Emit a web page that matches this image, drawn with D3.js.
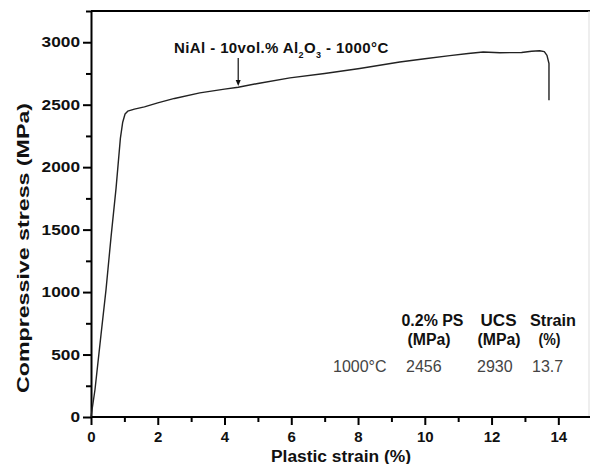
<!DOCTYPE html>
<html lang="en">
<meta charset="UTF-8">
<title>Compressive stress vs plastic strain</title>
<script src="https://d3js.org/d3.v7.min.js"></script>
<style>
  body { margin: 0; background: #fff; }
  svg text { font-family: "Liberation Sans", Arial, sans-serif; }
</style>
<body>
<div id="chart"></div>
<script>
// stress-strain curve
var strain = [0, 0.12, 0.3, 0.45, 0.6, 0.75, 0.88, 0.95, 1.02, 1.1, 1.3, 1.6, 2.0, 2.5, 3.26, 4.0, 4.41, 5.0, 5.96, 7.0, 8.05, 9.25, 10.0, 10.75, 11.3, 11.75, 12.25, 12.9, 13.2, 13.44, 13.58, 13.66, 13.72, 13.72];
var stress = [0, 220, 660, 1020, 1440, 1830, 2230, 2360, 2425, 2448, 2465, 2483, 2515, 2550, 2595, 2625, 2640, 2670, 2715, 2750, 2790, 2842, 2868, 2893, 2910, 2922, 2916, 2918, 2928, 2932, 2925, 2895, 2830, 2536];

var xTicks = [0, 2, 4, 6, 8, 10, 12, 14];
var xMinor = [1, 3, 5, 7, 9, 11, 13];
var yTicks = [0, 500, 1000, 1500, 2000, 2500, 3000];
var yMinor = [250, 750, 1250, 1750, 2250, 2750, 3250];

// inset table
var tableHeads = [["0.2% PS", "(MPa)"], ["UCS", "(MPa)"], ["Strain", "(%)"]];
var tableRowLabel = "1000°C";
var tableRow = ["2456", "2930", "13.7"];

var width = 590, height = 464;
var margin = {top: 11, left: 91, bottom: 47};

var svg = d3.select("#chart").append("svg")
    .attr("width", width)
    .attr("height", height);

var x = d3.scaleLinear().domain([0, 15]).range([margin.left, margin.left + 15 * 33.38]);
var y = d3.scaleLinear().domain([0, 3250]).range([height - margin.bottom, margin.top]);

// frame (top + right)
svg.append("line")
    .attr("x1", x(0)).attr("x2", width)
    .attr("y1", y(3250)).attr("y2", y(3250))
    .attr("stroke", "#000").attr("stroke-width", 2);
svg.append("line")
    .attr("x1", 589).attr("x2", 589)
    .attr("y1", y(3250)).attr("y2", y(0))
    .attr("stroke", "#ddd").attr("stroke-width", 1);

// minor ticks
svg.append("g")
    .attr("transform", "translate(0," + y(0) + ")")
    .call(d3.axisBottom(x).tickValues(xMinor).tickSize(5).tickFormat(""))
    .call(function(g) { g.select(".domain").remove(); })
    .selectAll("line").attr("stroke-width", 2);
svg.append("g")
    .attr("transform", "translate(" + x(0) + ",0)")
    .call(d3.axisLeft(y).tickValues(yMinor).tickSize(5).tickFormat(""))
    .call(function(g) { g.select(".domain").remove(); })
    .selectAll("line").attr("stroke-width", 2);

// x axis
var xAxis = svg.append("g")
    .attr("transform", "translate(0," + y(0) + ")")
    .call(d3.axisBottom(x).tickValues(xTicks).tickSize(8).tickSizeOuter(0).tickPadding(6));
xAxis.select(".domain").attr("stroke-width", 2).attr("d", "M" + x(0) + ",0H" + width);
xAxis.selectAll("line").attr("stroke-width", 2);
xAxis.selectAll("text")
    .attr("font-size", 15).attr("font-weight", "bold").attr("fill", "#111");

// y axis
var yAxis = svg.append("g")
    .attr("transform", "translate(" + x(0) + ",0)")
    .call(d3.axisLeft(y).tickValues(yTicks).tickFormat(d3.format("d"))
      .tickSize(8).tickSizeOuter(0).tickPadding(3));
yAxis.select(".domain").attr("stroke-width", 2);
yAxis.selectAll("line").attr("stroke-width", 2);
yAxis.selectAll("text")
    .attr("font-size", 14).attr("font-weight", "bold").attr("fill", "#111")
    .attr("textLength", function(d) { return String(d).length * 9.6; })
    .attr("lengthAdjust", "spacingAndGlyphs");

// axis titles
svg.append("text")
    .attr("x", 341).attr("y", 461.5)
    .attr("text-anchor", "middle")
    .attr("font-size", 16).attr("font-weight", "bold").attr("fill", "#111")
    .attr("textLength", 140).attr("lengthAdjust", "spacingAndGlyphs")
    .text("Plastic strain (%)");

svg.append("text")
    .attr("transform", "translate(28.5,248) rotate(-90)")
    .attr("text-anchor", "middle")
    .attr("font-size", 17).attr("font-weight", "bold").attr("fill", "#111")
    .attr("textLength", 290).attr("lengthAdjust", "spacingAndGlyphs")
    .text("Compressive stress (MPa)");

// the curve
var pts = strain.map(function(s, i) { return [s, stress[i]]; });
svg.append("path")
    .datum(pts)
    .attr("fill", "none")
    .attr("stroke", "#222")
    .attr("stroke-width", 1.4)
    .attr("stroke-linejoin", "round")
    .attr("d", d3.line().x(function(d) { return x(d[0]); }).y(function(d) { return y(d[1]); }));

// annotation
var note = svg.append("text")
    .attr("x", 174).attr("y", 53)
    .attr("font-size", 15).attr("font-weight", "bold").attr("fill", "#111")
    .attr("letter-spacing", 0.4);
note.append("tspan").text("NiAl - 10vol.% Al");
note.append("tspan").attr("font-size", 9).attr("dy", 5).text("2");
note.append("tspan").attr("dy", -5).text("O");
note.append("tspan").attr("font-size", 9).attr("dy", 5).text("3");
note.append("tspan").attr("dy", -5).text(" - 1000°C");

// arrow down to the curve
var ax = x(4.41);
svg.append("line")
    .attr("x1", ax).attr("x2", ax)
    .attr("y1", 58).attr("y2", 81)
    .attr("stroke", "#111").attr("stroke-width", 1.2);
svg.append("path")
    .attr("d", "M" + (ax - 2.5) + ",80L" + (ax + 2.5) + ",80L" + ax + ",86Z")
    .attr("fill", "#111");

// inset table
var colX = [432.5, 498.5, 553];
var headW = [62, 36, 46];
var unitW = [43, 43, 22];
tableHeads.forEach(function(h, i) {
  svg.append("text")
      .attr("x", colX[i]).attr("y", 326)
      .attr("text-anchor", "middle")
      .attr("font-size", 16).attr("font-weight", "bold").attr("fill", "#111")
      .attr("textLength", headW[i]).attr("lengthAdjust", "spacingAndGlyphs")
      .text(h[0]);
  svg.append("text")
      .attr("x", i == 2 ? 549.5 : colX[i] - (i == 0 ? 3.5 : -0.5)).attr("y", 345)
      .attr("text-anchor", "middle")
      .attr("font-size", 16).attr("font-weight", "bold").attr("fill", "#111")
      .attr("textLength", unitW[i]).attr("lengthAdjust", "spacingAndGlyphs")
      .text(h[1]);
});
svg.append("text")
    .attr("x", 333).attr("y", 371.5)
    .attr("font-size", 16).attr("fill", "#444")
    .text(tableRowLabel);
var rowX = [406, 477, 532];
tableRow.forEach(function(v, i) {
  svg.append("text")
      .attr("x", rowX[i]).attr("y", 371.5)
      .attr("font-size", 16).attr("fill", "#444")
      .text(v);
});
</script>
</body>
</html>
